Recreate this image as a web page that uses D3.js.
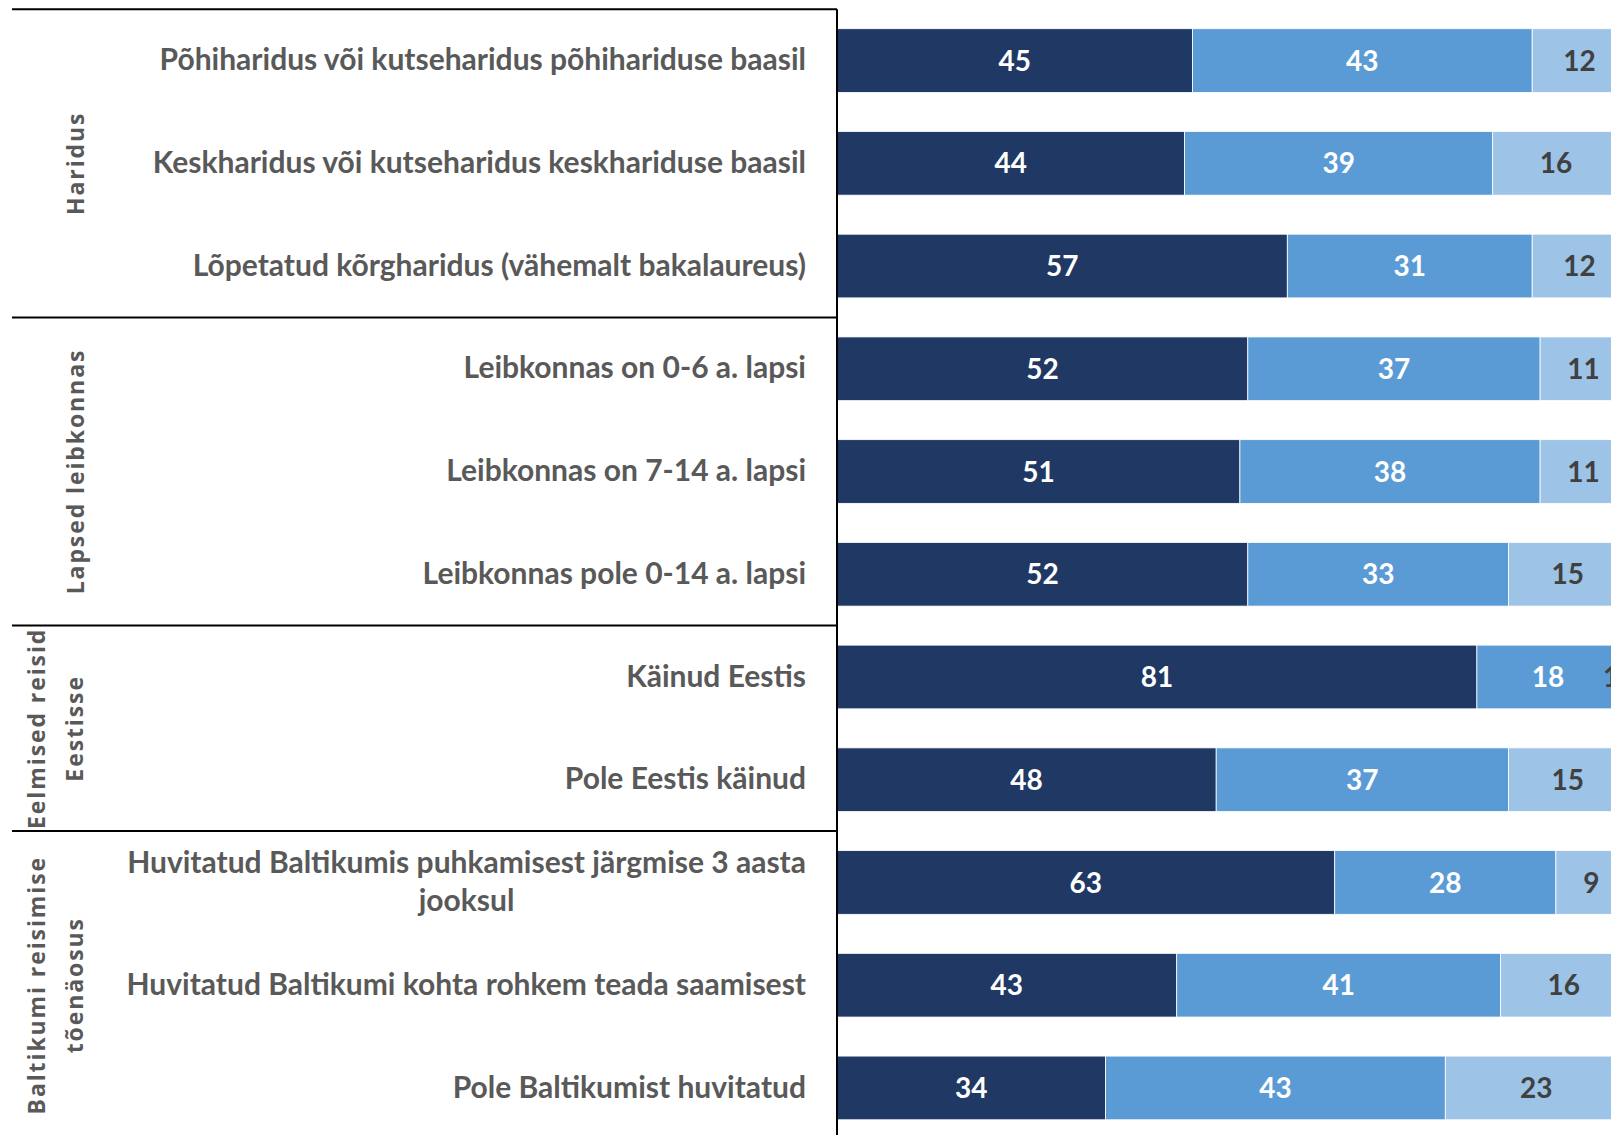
<!DOCTYPE html>
<html>
<head>
<meta charset="utf-8">
<script src="https://cdn.jsdelivr.net/npm/d3@7"></script>
<style>
  body { margin: 0; background: #fff; overflow: hidden; }
</style>
</head>
<body>
<div class="chart-container"></div>
<script>
const width = 1611;
const height = 1135;

// Category labels, top to bottom
const categories = [
  "Põhiharidus või kutseharidus põhihariduse baasil",
  "Keskharidus või kutseharidus keskhariduse baasil",
  "Lõpetatud kõrgharidus (vähemalt bakalaureus)",
  "Leibkonnas on 0-6 a. lapsi",
  "Leibkonnas on 7-14 a. lapsi",
  "Leibkonnas pole 0-14 a. lapsi",
  "Käinud Eestis",
  "Pole Eestis käinud",
  "Huvitatud Baltikumis puhkamisest järgmise 3 aasta jooksul",
  "Huvitatud Baltikumi kohta rohkem teada saamisest",
  "Pole Baltikumist huvitatud"
];

// Stacked series (percent)
const seriesDark  = [45, 44, 57, 52, 51, 52, 81, 48, 63, 43, 34];
const seriesMid   = [43, 39, 31, 37, 38, 33, 18, 37, 28, 41, 43];
const seriesLight = [12, 16, 12, 11, 11, 15,  1, 15,  9, 16, 23];

// Group labels (already split into lines) and how many rows each spans
const groupLabels = [
  ["Haridus"],
  ["Lapsed leibkonnas"],
  ["Eelmised reisid", "Eestisse"],
  ["Baltikumi reisimise", "tõenäosus"]
];
const groupSizes = [3, 3, 2, 3];

const colors = ["#203864", "#5B9BD5", "#9DC3E6"];
const labelColors = ["#ffffff", "#ffffff", "#404040"];

const axisX = 837;
const labelFont = "Lato, 'Open Sans', sans-serif";

const rows = categories.map((c, i) => ({
  name: c, dark: seriesDark[i], mid: seriesMid[i], light: seriesLight[i]
}));

const stack = d3.stack().keys(["dark", "mid", "light"]);
const stacked = stack(rows);

const x = d3.scaleLinear().domain([0, 100]).range([axisX, 1627]);
const y = d3.scaleBand()
  .domain(categories)
  .range([9.2, 1139.3])
  .paddingInner(0.38)
  .paddingOuter(0.19);

const svg = d3.select(".chart-container").append("svg")
  .attr("width", width)
  .attr("height", height);

// Bars
const layers = svg.append("g")
  .selectAll("g")
  .data(stacked)
  .join("g")
  .attr("fill", (d, i) => colors[i]);

layers.selectAll("rect")
  .data(d => d)
  .join("rect")
  .attr("x", d => x(d[0]))
  .attr("y", d => y(d.data.name))
  .attr("width", d => x(d[1]) - x(d[0]))
  .attr("height", y.bandwidth())
  .attr("stroke", "#ffffff")
  .attr("stroke-width", 0.8);

// Value labels
stacked.forEach((layer, li) => {
  svg.append("g")
    .selectAll("text")
    .data(layer)
    .join("text")
    .attr("x", d => Math.min(x((d[0] + d[1]) / 2), width))
    .attr("y", d => y(d.data.name) + y.bandwidth() / 2)
    .attr("dy", "0.36em")
    .attr("text-anchor", "middle")
    .attr("fill", labelColors[li])
    .style("font-family", labelFont)
    .style("font-weight", 700)
    .style("font-size", "28px")
    .text(d => d[1] - d[0]);
});

// Category axis
const axis = svg.append("g")
  .attr("transform", `translate(${axisX},0)`)
  .call(d3.axisLeft(y).tickSize(0).tickPadding(31));

axis.select(".domain")
  .attr("stroke", "#000")
  .attr("stroke-width", 2)
  .attr("d", `M0,${y.range()[0]}V${height + 5}`);

axis.selectAll(".tick text")
  .attr("fill", "#595959")
  .style("font-family", labelFont)
  .style("font-weight", 700)
  .style("font-size", "30px");

// Wrap long category labels: lines centred inside a right-aligned block
const maxLabelWidth = 700;
axis.selectAll(".tick text").each(function() {
  const text = d3.select(this);
  if (this.getComputedTextLength() <= maxLabelWidth) return;
  const words = text.text().split(" ");
  const lines = [];
  let line = [];
  text.text(null);
  const probe = text.append("tspan");
  words.forEach(w => {
    line.push(w);
    probe.text(line.join(" "));
    if (probe.node().getComputedTextLength() > maxLabelWidth && line.length > 1) {
      line.pop();
      lines.push(line.join(" "));
      line = [w];
    }
  });
  lines.push(line.join(" "));
  probe.remove();
  const tspans = lines.map(l => text.append("tspan").text(l));
  let blockWidth = 0;
  tspans.forEach(t => { blockWidth = Math.max(blockWidth, t.node().getComputedTextLength()); });
  const cx = -31 - blockWidth / 2;
  const lineHeight = 38;
  text.attr("text-anchor", "middle").attr("dy", null);
  tspans.forEach((t, i) => {
    t.attr("x", cx)
      .attr("y", (i - (lines.length - 1) / 2) * lineHeight)
      .attr("dy", "0.32em");
  });
});

// Group separators and group labels
const gap = y.step() - y.bandwidth();
let start = 0;
const groupInfo = groupSizes.map((n, gi) => {
  const top = y(categories[start]) - gap / 2;
  const bottom = y(categories[start + n - 1]) + y.bandwidth() + gap / 2;
  start += n;
  return { top, bottom, lines: groupLabels[gi] };
});

svg.append("g")
  .selectAll("line")
  .data(groupInfo)
  .join("line")
  .attr("x1", 12)
  .attr("x2", axisX)
  .attr("y1", d => d.top)
  .attr("y2", d => d.top)
  .attr("stroke", "#000")
  .attr("stroke-width", 2);

const groupG = svg.append("g")
  .selectAll("text")
  .data(groupInfo)
  .join("text")
  .attr("transform", d => `translate(0,${(d.top + d.bottom) / 2}) rotate(-90)`)
  .attr("text-anchor", "middle")
  .attr("fill", "#595959")
  .style("font-family", "'Open Sans', sans-serif")
  .style("font-weight", 700)
  .style("font-size", "23px")
  .style("letter-spacing", "1.9px");

groupG.selectAll("tspan")
  .data(d => d.lines.map((l, i) => ({ text: l, i, n: d.lines.length })))
  .join("tspan")
  .attr("x", 0)
  .attr("y", d => (d.n === 1 ? 76 : 37 + d.i * 38))
  .attr("dy", "0.36em")
  .text(d => d.text);
</script>
</body>
</html>
